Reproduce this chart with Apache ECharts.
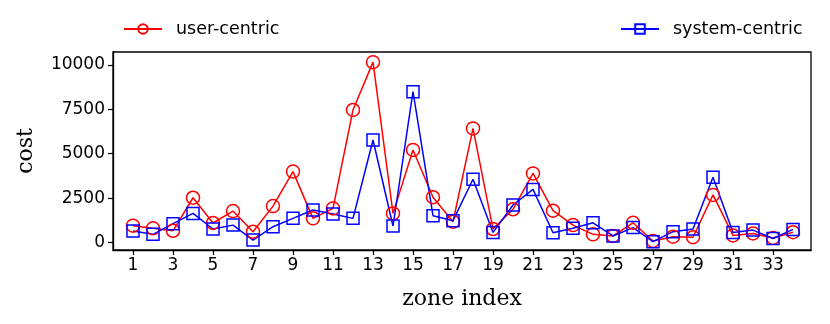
<!DOCTYPE html>
<html>
<head>
<meta charset="utf-8">
<script src="https://cdn.jsdelivr.net/npm/echarts@6/dist/echarts.min.js"></script>
<style>
html,body{margin:0;padding:0;background:#fff;}
#chart{width:830px;height:324px;}
</style>
</head>
<body>
<div id="chart"></div>
<script>
// zone index 1..34
var zones = [];
for (var i = 1; i <= 34; i++) { zones.push(i); }
var xTicks = [1,3,5,7,9,11,13,15,17,19,21,23,25,27,29,31,33];
var yTicks = [0,2500,5000,7500,10000];

var userCentric = [950,800,660,2520,1100,1770,610,2050,3990,1360,1920,7460,10150,1640,5210,2550,1170,6420,760,1870,3890,1790,980,460,370,1110,90,330,300,2680,400,510,260,580];
var systemCentric = [650,460,1060,1640,760,980,140,890,1360,1830,1600,1360,5770,930,8490,1510,1230,3560,570,2110,2990,550,800,1110,370,840,50,610,760,3670,570,700,230,740];

var myChart = echarts.init(document.getElementById("chart"));

function pairs(arr){
	var out = [];
	for (var i = 0; i < arr.length; i++) { out.push([zones[i], arr[i]]); }
	return out;
}

var legendText = { fontSize: 17.5, color: '#000', fontFamily: 'DejaVu Sans', padding: [0, 0, 0, 9] };

var option = {
	animation: false,
	backgroundColor: '#fff',
	textStyle: { fontFamily: 'DejaVu Sans' },
	grid: { left: 113, right: 19, top: 52, bottom: 74, show: true, borderColor: '#000', borderWidth: 1.3, backgroundColor: 'transparent' },
	legend: [
		{
			left: 118, top: 15, itemWidth: 38, itemHeight: 12,
			textStyle: legendText,
			data: ['user-centric']
		},
		{
			left: 615, top: 15, itemWidth: 38, itemHeight: 12,
			textStyle: legendText,
			data: ['system-centric']
		}
	],
	xAxis: {
		type: 'value',
		min: 0,
		max: 34.9,
		name: 'zone index',
		nameLocation: 'middle',
		nameGap: 38,
		nameTextStyle: { fontFamily: 'DejaVu Serif', fontSize: 22, color: '#000' },
		axisLine: { onZero: false, lineStyle: { color: '#000', width: 1.3 } },
		axisTick: { show: true, length: 5, lineStyle: { color: '#000', width: 1.2 }, customValues: xTicks },
		axisLabel: { fontSize: 17, color: '#000', margin: 7, customValues: xTicks, formatter: function(v){ return String(v); } },
		splitLine: { show: false }
	},
	yAxis: {
		type: 'value',
		min: -420,
		max: 10720,
		name: 'cost',
		nameLocation: 'middle',
		nameGap: 76,
		nameTextStyle: { fontFamily: 'DejaVu Serif', fontSize: 22, color: '#000' },
		axisLine: { show: true, onZero: false, lineStyle: { color: '#000', width: 1.3 } },
		axisTick: { show: true, length: 5, lineStyle: { color: '#000', width: 1.2 }, customValues: yTicks },
		axisLabel: { fontSize: 17, color: '#000', margin: 8, customValues: yTicks, formatter: function(v){ return String(v); } },
		splitLine: { show: false }
	},
	series: [
		{
			name: 'user-centric',
			type: 'line',
			data: pairs(userCentric),
			symbol: 'circle',
			symbolSize: 13,
			lineStyle: { color: '#ff0000', width: 1.5 },
			itemStyle: { color: 'rgba(255,255,255,0)', borderColor: '#ff0000', borderWidth: 1.5 }
		},
		{
			name: 'system-centric',
			type: 'line',
			data: pairs(systemCentric),
			symbol: 'rect',
			symbolSize: 12,
			lineStyle: { color: '#0000ff', width: 1.5 },
			itemStyle: { color: 'rgba(255,255,255,0)', borderColor: '#0000ff', borderWidth: 1.5 }
		}
	]
};

myChart.setOption(option);
</script>
</body>
</html>
